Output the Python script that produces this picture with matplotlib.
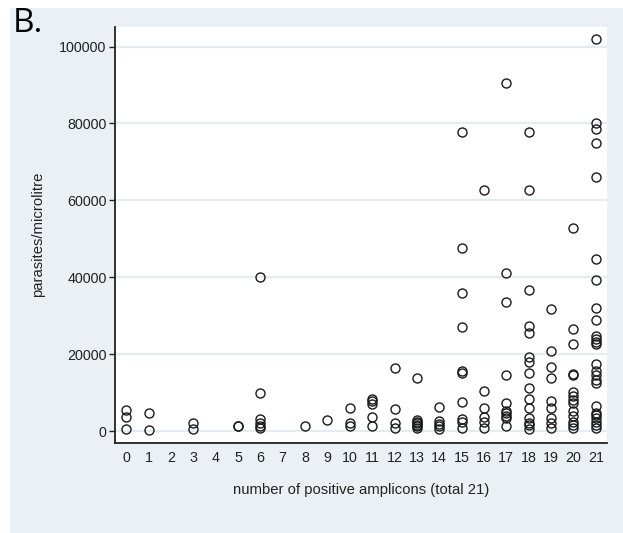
import matplotlib
matplotlib.use("Agg")
import matplotlib.pyplot as plt
from matplotlib.patches import Rectangle

plt.rcParams['font.family'] = ['Liberation Sans', 'DejaVu Sans']

# number of positive amplicons -> parasites/microlitre values
col0 = [5400, 3700, 450]
col1 = [4600, 180]
col3 = [2100, 500]
col5 = [1300, 1400]
col6 = [40000, 10000, 3100, 2100, 1300, 800]
col8 = [1300]
col9 = [2800]
col10 = [5900, 2100, 1300]
col11 = [8300, 7700, 7100, 3700, 1200]
col12 = [16400, 5750, 2100, 900]
col13 = [13900, 2800, 2400, 2000, 1600, 1200, 900]
col14 = [6200, 2600, 1900, 1300, 600]
col15 = [77900, 47500, 35800, 27000, 15700, 15200, 7500, 3000, 2400, 800]
col16 = [62700, 10500, 6100, 3700, 2400, 900]
col17 = [90600, 41100, 33500, 14500, 7300, 5200, 4600, 4000, 3300, 1200]
col18 = [77900, 62800, 36700, 27300, 25600, 19200, 17900, 15200, 11200, 8400,
         6100, 3500, 2100, 1500, 600]
col19 = [31800, 20800, 16700, 13700, 7900, 5900, 3500, 2100, 800]
col20 = [52800, 26500, 22600, 14800, 14500, 10200, 9000, 8100, 7300, 5200,
         4000, 2400, 1500, 800]
col21 = [102100, 80100, 78500, 75000, 66000, 44700, 39300, 32000, 28800, 24700,
         23900, 23200, 22700, 17400, 15700, 14500, 13200, 12400, 6500, 4800,
         4200, 3300, 2400, 1500, 800]

groups = {0: col0, 1: col1, 3: col3, 5: col5, 6: col6, 8: col8, 9: col9,
          10: col10, 11: col11, 12: col12, 13: col13, 14: col14, 15: col15,
          16: col16, 17: col17, 18: col18, 19: col19, 20: col20, 21: col21}

x_ticks = list(range(0, 22))
y_ticks = [0, 20000, 40000, 60000, 80000, 100000]

xs, ys = [], []
for k, vals in groups.items():
    for v in vals:
        xs.append(k)
        ys.append(v)

W, H = 623, 533
fig = plt.figure(figsize=(W / 100, H / 100), dpi=100, facecolor='white')
panel_col = '#eaf0f3'
panel = Rectangle((10 / W, 0), 1 - 10 / W, 1 - 8 / H,
                  transform=fig.transFigure, facecolor=panel_col,
                  edgecolor='none', zorder=-10)
fig.add_artist(panel)

ax = fig.add_axes([115 / W, 1 - 443 / H, (607 - 115) / W, (443 - 26.5) / H])
ax.set_zorder(5)
ax.set_facecolor('white')
ax.set_xlim(-0.5, 21.5)
ax.set_ylim(-3120, 105230)

ax.yaxis.grid(True, color='#e4ecf0', linewidth=1.6)
ax.set_axisbelow(True)

ax.plot(xs, ys, linestyle='none', marker='o', markersize=6.5,
        markerfacecolor='none', markeredgecolor='#1a1a1a', markeredgewidth=1.0)

ax.set_xticks(x_ticks)
ax.set_xticklabels([str(t) for t in x_ticks])
ax.set_yticks(y_ticks)
ax.set_yticklabels([str(t) for t in y_ticks])
ax.tick_params(axis='x', length=0, pad=6, labelsize=10.3, colors='#222222')
ax.tick_params(axis='y', length=4, width=1, pad=2, labelsize=10.3, colors='#222222')

for s in ['top', 'right']:
    ax.spines[s].set_visible(False)
for s in ['left', 'bottom']:
    ax.spines[s].set_color('#222222')
    ax.spines[s].set_linewidth(1.3)

ax.set_xlabel('number of positive amplicons (total 21)', fontsize=10.7,
              color='#222222', labelpad=13)
ax.set_ylabel('parasites/microlitre', fontsize=10.7, color='#222222', labelpad=10)

fig.text(13 / W, 1 - 32 / H, 'B.', fontsize=24, family=['Open Sans', 'DejaVu Sans'],
         color='black', va='baseline', ha='left')

fig.savefig('out.png', dpi=100, facecolor='white')
